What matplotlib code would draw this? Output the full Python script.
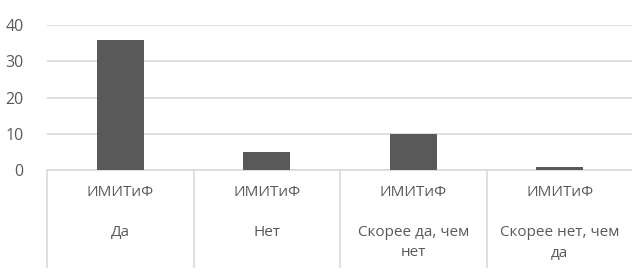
import matplotlib
matplotlib.use("Agg")
import matplotlib.pyplot as plt
import matplotlib.transforms as mtransforms

plt.rcParams['font.family'] = ['Open Sans', 'DejaVu Sans']

group_label = "ИМИТиФ"
categories = ["Да", "Нет", "Скорее да, чем\nнет", "Скорее нет, чем\nда"]
values = [36, 5, 10, 0.8]
yticks = [0, 10, 20, 30, 40]

W, H = 632, 275
fig = plt.figure(figsize=(W / 100, H / 100), dpi=100)
left, right, top, bottom = 47, 633, 25, 170
ax = fig.add_axes([left / W, 1 - bottom / H, (right - left) / W, (bottom - top) / H])

x = list(range(len(categories)))
ax.bar(x, values, width=0.32, color='#595959', zorder=3)
ax.set_xlim(-0.5, len(categories) - 0.5)
ax.set_ylim(0, 40)
ax.set_yticks(yticks)
ax.set_xticks([])
ax.tick_params(axis='y', length=0, labelsize=11.5, labelcolor='#595959', pad=17)
for s in ['top', 'right', 'left']:
    ax.spines[s].set_visible(False)
ax.spines['bottom'].set_color('#d9d9d9')
ax.spines['bottom'].set_linewidth(1.2)
ax.yaxis.grid(True, color='#d9d9d9', linewidth=1.2, zorder=0)
ax.set_axisbelow(True)

trans = mtransforms.blended_transform_factory(ax.transData, ax.transAxes)
px = 1.0 / (bottom - top)  # one pixel in axes units
for b in [i - 0.5 for i in range(len(categories) + 1)]:
    ax.plot([b, b], [0, -(267 - bottom) * px], transform=trans, color='#d9d9d9',
            linewidth=1.2, clip_on=False)
for i, c in enumerate(categories):
    ax.text(i, -(192.5 - bottom) * px, group_label, transform=trans, ha='center',
            va='center', fontsize=11, color='#595959')
    ax.text(i, -(225 - bottom) * px, c, transform=trans, ha='center', va='top',
            fontsize=11, color='#595959', linespacing=1.5)

fig.savefig("out.png", dpi=100)
